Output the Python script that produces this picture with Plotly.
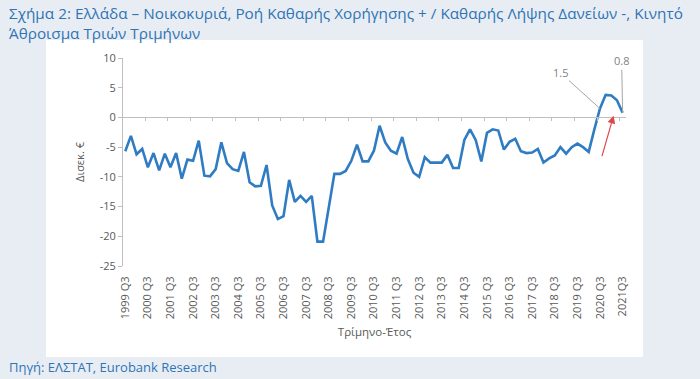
import plotly.graph_objects as go

# ---- data ----
start_year = 1999
start_q = 3
values = [
    -5.7, -3.1, -6.2, -5.3, -8.4, -6.0, -8.9, -6.1, -8.4, -6.0,
    -10.3, -7.1, -7.3, -3.9, -9.8, -9.9, -8.7, -4.2, -7.7, -8.7,
    -9.0, -5.8, -10.9, -11.6, -11.5, -8.0, -14.8, -17.1, -16.6, -10.5,
    -14.2, -13.2, -14.2, -13.2, -20.9, -20.9, -15.2, -9.5, -9.5, -9.0,
    -7.3, -4.6, -7.4, -7.4, -5.6, -1.4, -4.2, -5.6, -6.1, -3.3,
    -7.0, -9.3, -10.0, -6.7, -7.6, -7.6, -7.6, -6.3, -8.5, -8.5,
    -3.8, -2.0, -3.8, -7.4, -2.6, -2.0, -2.2, -5.4, -4.1, -3.6,
    -5.7, -6.0, -5.9, -5.3, -7.6, -6.9, -6.4, -5.0, -6.1, -5.0,
    -4.4, -5.0, -5.8, -2.0, 1.5, 3.8, 3.7, 2.9, 0.8,
]
quarters = []
y, q = start_year, start_q
for _ in values:
    quarters.append(f"{y} Q{q}")
    q += 1
    if q > 4:
        q = 1
        y += 1

tick_labels = [f"{yr} Q3" for yr in range(1999, 2021)] + ["2021Q3"]
y_ticks = [10, 5, 0, -5, -10, -15, -20, -25]
label_15_idx = 84
label_08_idx = 88

TITLE = ("Σχήμα 2: Ελλάδα – Νοικοκυριά, Ροή Καθαρής Χορήγησης + / Καθαρής Λήψης Δανείων -, Κινητό"
         "<br>Άθροισμα Τριών Τριμήνων")
SOURCE = "Πηγή: ΕΛΣΤΑΤ, Eurobank Research"

# ---- layout geometry ----
W, H = 700, 379
ML, MR, MT, MB = 123, 74, 58, 113
PW, PH = W - ML - MR, H - MT - MB


def px(xp):
    return (xp - ML) / PW


def py(yp):
    return (H - MB - yp) / PH


BLUE = "#2f7cc2"
TITLE_BLUE = "#2f74b5"
GRAY_TXT = "#595959"
AX = "#bfbfbf"
FONT = "Open Sans"
BG = "#e8edf4"

n = len(values)
xr = [-0.4, n - 1 + 0.6]

fig = go.Figure()
fig.add_trace(go.Scatter(
    x=quarters, y=values, mode="lines",
    line=dict(color=BLUE, width=2.6), showlegend=False, hoverinfo="skip",
))
# invisible twin on a linear axis to draw the zero axis with its tick marks
fig.add_trace(go.Scatter(
    x=list(range(n)), y=values, mode="lines", xaxis="x2",
    line=dict(color="rgba(0,0,0,0)", width=0), showlegend=False, hoverinfo="skip",
))

fig.update_layout(
    width=W, height=H,
    margin=dict(l=ML, r=MR, t=MT, b=MB, autoexpand=False),
    paper_bgcolor=BG,
    plot_bgcolor="white",
    font=dict(family=FONT, color=GRAY_TXT),
    xaxis=dict(
        type="category", range=xr, showline=False, showgrid=False, zeroline=False,
        ticks="outside", ticklen=5, tickcolor="rgba(0,0,0,0)",
        tickmode="array", tickvals=quarters[0::4], ticktext=tick_labels,
        tickangle=-90, tickfont=dict(size=11, color=GRAY_TXT),
        title=dict(text="Τρίμηνο-Έτος", font=dict(size=11.5, color=GRAY_TXT), standoff=9),
    ),
    xaxis2=dict(
        type="linear", overlaying="x", anchor="free", position=25 / 35,
        range=xr, showline=True, linecolor=AX, linewidth=1,
        ticks="outside", ticklen=3, tickcolor=AX,
        tickmode="array", tickvals=[k - 0.5 for k in range(0, n + 1, 4)],
        showticklabels=False, showgrid=False, zeroline=False,
    ),
    yaxis=dict(
        range=[-25, 10], showline=True, linecolor=AX, linewidth=1,
        ticks="outside", ticklen=4, tickcolor=AX, showgrid=False, zeroline=False,
        tickmode="array", tickvals=y_ticks, ticktext=[str(v) for v in y_ticks],
        tickfont=dict(size=11, color=GRAY_TXT),
        title=dict(text="Δισεκ. €", font=dict(size=11, color=GRAY_TXT), standoff=12),
    ),
    shapes=[dict(type="rect", xref="paper", yref="paper", layer="below",
                 x0=px(46), x1=px(643), y0=py(357), y1=py(40),
                 fillcolor="white", line=dict(width=0))],
    annotations=[
        dict(x=px(7), y=py(1), xref="paper", yref="paper", xanchor="left",
             yanchor="top", align="left", text=TITLE, showarrow=False,
             font=dict(size=15.3, color=TITLE_BLUE, family=FONT)),
        dict(x=quarters[label_15_idx], y=values[label_15_idx], xref="x", yref="y",
             text=str(values[label_15_idx]), showarrow=True, arrowhead=0,
             arrowwidth=1, arrowcolor="#a6a6a6", ax=-40, ay=-36,
             font=dict(size=11, color="#7f7f7f")),
        dict(x=quarters[label_08_idx], y=values[label_08_idx], xref="x", yref="y",
             text=str(values[label_08_idx]), showarrow=True, arrowhead=0,
             arrowwidth=1, arrowcolor="#a6a6a6", ax=-1, ay=-52,
             font=dict(size=11, color="#7f7f7f")),
        dict(x=86.4, y=0.3, xref="x2", yref="y", text="", showarrow=True,
             arrowhead=2, arrowsize=1.3, arrowwidth=1.2, arrowcolor="#e0474c",
             ax=-12, ay=42),
        dict(x=px(7), y=py(367), xref="paper", yref="paper", xanchor="left",
             yanchor="middle", text=SOURCE, showarrow=False,
             font=dict(size=13, color=TITLE_BLUE, family=FONT)),
    ],
)

fig.write_html(
    "out.html",
    config={"displayModeBar": False},
    post_script=("document.body.style.margin='0';"
                 "document.body.style.background='" + BG + "';"
                 "document.body.style.overflow='hidden';"
                 "window.dispatchEvent(new Event('resize'));"),
)
